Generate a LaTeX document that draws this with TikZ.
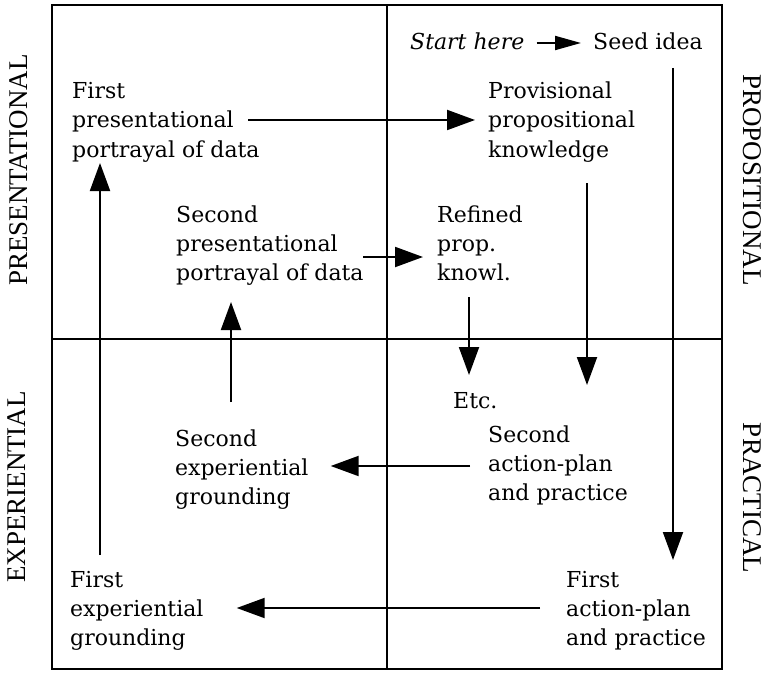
\documentclass[tikz,border=0pt]{standalone}
\usepackage{fontspec}
\setmainfont{DejaVu Serif}
\newfontfamily\sidefont{Liberation Serif}
\usetikzlibrary{arrows.meta,calc}
\begin{document}
\begin{tikzpicture}[x=1bp,y=-1bp,
  txt/.style={anchor=base west,inner sep=0pt,align=left,
    font=\fontsize{22bp}{29bp}\selectfont},
  side/.style={inner sep=0pt,font=\sidefont\fontsize{27bp}{30bp}\selectfont},
  frame/.style={line width=2.4bp},
  divider/.style={line width=1.8bp},
  flow/.style={line width=2bp,-{Triangle[length=28bp,width=20bp]}},
  small flow/.style={line width=2bp,-{Triangle[length=26bp,width=14bp]}}]
\useasboundingbox (0,0) rectangle (767,673);

% quadrant grid
\draw[frame] (52,5) rectangle (722,669);
\draw[divider] (387,5) -- (387,669);
\draw[divider] (52,339) -- (722,339);

% axis labels
\node[side,rotate=90] (lpres) at (19,170) {PRESENTATIONAL};
\node[side,rotate=90] (lexp) at (17,487) {EXPERIENTIAL};
\node[side,rotate=-90] (lprop) at (752,180) {PROPOSITIONAL};
\node[side,rotate=-90] (lprac) at (752,498) {PRACTICAL};

% stages of the cycle (each anchored at the baseline of its last line)
\node[txt] (start) at (410,50) {\itshape Start here};
\node[txt] (seed) at (593,50) {Seed idea};
\node[txt] (fp) at (72,157) {First\\presentational\\portrayal of data};
\node[txt] (pp) at (488,157) {Provisional\\propositional\\knowledge};
\node[txt] (sp) at (176,280) {Second\\presentational\\portrayal of data};
\node[txt] (rk) at (437,280) {Refined\\prop.\\knowl.};
\node[txt] (etc) at (453,408) {Etc.};
\node[txt] (se) at (175,504) {Second\\experiential\\grounding};
\node[txt] (sa) at (488,500) {Second\\action-plan\\and practice};
\node[txt] (fe) at (70,645) {First\\experiential\\grounding};
\node[txt] (fa) at (566,645) {First\\action-plan\\and practice};

% flow of the cycle
\draw[small flow] ($(start.base east)+(12,-7)$) -- ($(seed.base west)+(-12,-7)$);
\draw[flow] ($(seed.base west)+(80,18)$) -- ($(fa.base west)+(107,-85)$);
\draw[flow] ($(fa.base west)+(-26,-37)$) -- ($(fe.base east)+(33,-37)$);
\draw[flow] ($(fe.base west)+(30,-90)$) -- ($(fp.base west)+(28,6)$);
\draw[flow] ($(fp.base west)+(176,-37)$) -- ($(pp.base west)+(-13,-37)$);
\draw[flow] ($(pp.base west)+(99,26)$) -- ($(sa.base west)+(99,-115)$);
\draw[flow] ($(sa.base west)+(-18,-34)$) -- ($(se.base east)+(22,-38)$);
\draw[flow] ($(se.base west)+(56,-102)$) -- ($(sp.base west)+(55,22)$);
\draw[flow] ($(sp.base west)+(187,-23)$) -- ($(rk.base west)+(-14,-23)$);
\draw[flow] ($(rk.base west)+(32,17)$) -- ($(etc.base west)+(16,-33)$);
\end{tikzpicture}
\end{document}
